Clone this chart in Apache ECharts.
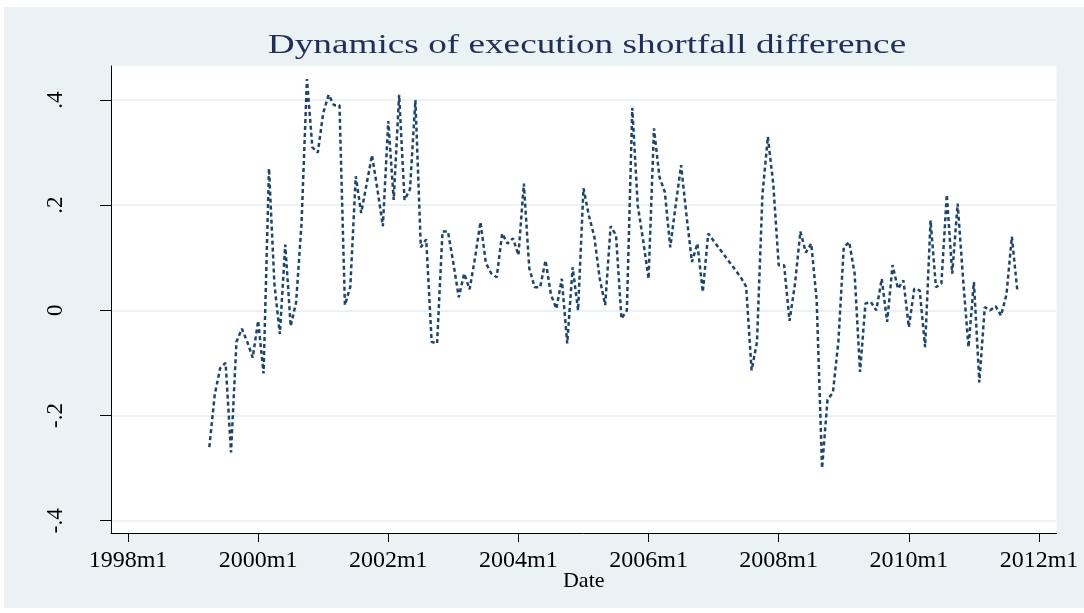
<!DOCTYPE html>
<html>
<head>
<meta charset="utf-8">
<script src="https://cdn.jsdelivr.net/npm/echarts@6/dist/echarts.min.js"></script>
<style>
  html, body { margin: 0; padding: 0; background: #fff; }
  #main { width: 1084px; height: 613px; }
</style>
</head>
<body>
<div id="main"></div>
<script>
// monthly series, month index counted from 1998m1 (= 0)
var startYear = 1998;
var firstMonth = 15; // 1999m4
var shortfallDiff = [
  -0.26, -0.16, -0.11, -0.10, -0.27, -0.06, -0.035, -0.06, -0.09, -0.02,
  -0.12, 0.27, 0.05, -0.045, 0.125, -0.03, 0.015, 0.165, 0.44, 0.31,
  0.30, 0.375, 0.41, 0.39, 0.39, 0.01, 0.045, 0.255, 0.185, 0.24,
  0.295, 0.23, 0.16, 0.36, 0.21, 0.41, 0.21, 0.23, 0.40, 0.12,
  0.135, -0.06, -0.063, 0.15, 0.15, 0.09, 0.025, 0.07, 0.04, 0.10,
  0.168, 0.09, 0.07, 0.063, 0.146, 0.127, 0.137, 0.105, 0.241, 0.08,
  0.044, 0.044, 0.095, 0.03, 0.003, 0.06, -0.063, 0.082, 0.0, 0.232,
  0.18, 0.14, 0.06, 0.01, 0.16, 0.143, -0.016, 0.0, 0.385, 0.20,
  0.133, 0.06, 0.346, 0.254, 0.225, 0.12, 0.20, 0.276, 0.18, 0.092,
  0.127, 0.035, 0.146, null, null, null, null, null, 0.063, 0.045,
  -0.114, -0.06, 0.22, 0.33, 0.24, 0.086, 0.086, -0.02, 0.05, 0.15,
  0.11, 0.127, 0.02, -0.30, -0.17, -0.156, -0.06, 0.12, 0.13, 0.07,
  -0.117, 0.013, 0.016, 0.0, 0.06, -0.022, 0.086, 0.041, 0.057, -0.032,
  0.041, 0.038, -0.07, 0.171, 0.044, 0.051, 0.22, 0.07, 0.203, 0.06,
  -0.07, 0.054, -0.137, 0.006, 0.0, 0.008, -0.01, 0.03, 0.14, 0.038
];
var xTickMonths = [0, 24, 48, 72, 96, 120, 144, 168];
var yTicks = [-0.4, -0.2, 0, 0.2, 0.4];
var yTickLabels = ['-.4', '-.2', '0', '.2', '.4'];

var seriesData = shortfallDiff.map(function (v, i) {
  return [firstMonth + i, v];
});

var serif = '"Liberation Serif", "DejaVu Serif", serif';

var chart = echarts.init(document.getElementById('main'), null, { renderer: 'canvas' });

var option = {
  backgroundColor: '#ffffff',
  animation: false,
  graphic: [
    {
      type: 'rect',
      z: -10,
      shape: { x: 4, y: 7, width: 1080, height: 601 },
      style: { fill: '#eaf2f3' },
      silent: true
    },
    {
      // the original title is set in a horizontally stretched serif
      type: 'text',
      x: 587,
      y: 46,
      scaleX: 1.33,
      style: {
        text: 'Dynamics of execution shortfall difference',
        font: '28px ' + serif,
        fill: '#1e2f5c',
        align: 'center',
        verticalAlign: 'middle'
      }
    }
  ],
  grid: {
    left: 111,
    right: 27.5,
    top: 66,
    bottom: 80,
    show: true,
    backgroundColor: '#ffffff',
    borderWidth: 0,
    containLabel: false
  },
  xAxis: {
    type: 'value',
    min: -3.135,
    max: 171.23,
    name: 'Date',
    nameLocation: 'middle',
    nameGap: 37,
    nameMoveOverlap: false,
    nameTextStyle: { fontFamily: serif, fontSize: 22, color: '#000' },
    axisLine: { show: true, onZero: false, lineStyle: { color: '#000', width: 1 } },
    axisTick: { show: true, length: 9, customValues: xTickMonths, lineStyle: { color: '#000' } },
    axisLabel: {
      customValues: xTickMonths,
      margin: 16,
      fontFamily: serif,
      fontSize: 24,
      color: '#000',
      formatter: function (v) { return (startYear + Math.round(v / 12)) + 'm1'; }
    },
    splitLine: { show: false }
  },
  yAxis: {
    type: 'value',
    min: -0.4234,
    max: 0.4647,
    axisLine: { show: true, onZero: false, lineStyle: { color: '#000', width: 1 } },
    axisTick: { show: true, length: 11, customValues: yTicks, lineStyle: { color: '#000' } },
    axisLabel: {
      customValues: yTicks,
      rotate: 90,
      margin: 44,
      fontFamily: serif,
      fontSize: 23,
      color: '#000',
      formatter: function (v) {
        var i = yTicks.findIndex(function (t) { return Math.abs(t - v) < 1e-6; });
        return i >= 0 ? yTickLabels[i] : '';
      }
    },
    splitLine: { show: true, lineStyle: { color: '#eaf2f3', width: 2 } }
  },
  series: [
    {
      name: 'Execution shortfall difference',
      type: 'line',
      data: seriesData,
      connectNulls: true,
      showSymbol: false,
      symbol: 'none',
      lineStyle: { color: '#1c4670', width: 2.5, type: [4, 3] }
    }
  ]
};

chart.setOption(option);
window.addEventListener('resize', chart.resize);
</script>
</body>
</html>
